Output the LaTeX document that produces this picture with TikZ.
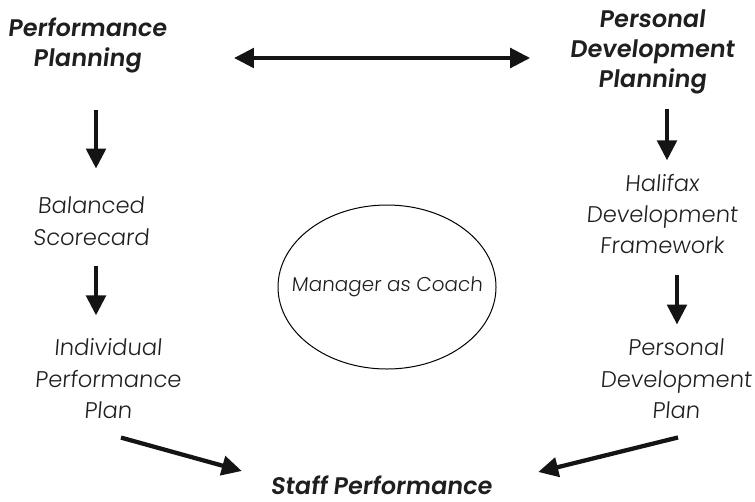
\documentclass[tikz,border=0pt]{standalone}
\usepackage{fontspec}
\usetikzlibrary{arrows.meta}
\newfontfamily\bodyfont{Poppins Light}[FakeSlant=0.08]
\newfontfamily\headfont{Poppins SemiBold}[FakeSlant=0.12]

\tikzset{every picture/.style={line width=0.75pt}}
\tikzset{
	headtxt/.style={align=center, inner sep=0.75pt, text=black!88, font=\headfont\fontsize{18}{22.5}\selectfont},
	bodytxt/.style={align=center, inner sep=0.75pt, text=black!88, font=\bodyfont\fontsize{17}{23.6}\selectfont},
	bigarrow/.style={line width=3.2pt, black!92, -{Triangle[length=15pt,width=14.5pt]}},
	twoarrow/.style={bigarrow, {Triangle[length=15pt,width=14.5pt]}-{Triangle[length=15pt,width=14.5pt]}},
}

\begin{document}
\begin{tikzpicture}[x=0.75pt,y=0.75pt,yscale=-1,xscale=1]
		\useasboundingbox (0,0) rectangle (755,501);
		
		%Headings
		\node [headtxt] (perfplan) at (87,45) {Performance\\Planning};
		\node [headtxt] (persplan) at (652,52) {Personal\\Development\\Planning};
		\node [headtxt] (staffperf) at (381,485) {Staff Performance};
		
		%Left column
		\node [bodytxt] (balsc) at (91,221) {Balanced\\Scorecard};
		\node [bodytxt] (indplan) at (108,379) {Individual\\Performance\\Plan};
		
		%Right column
		\node [bodytxt] (halifax) at (662,214) {Halifax\\Development\\Framework};
		\node [bodytxt] (persdev) at (676,379) {Personal\\Development\\Plan};
		
		%Shape: Ellipse
		\node [bodytxt, font=\bodyfont\fontsize{15}{18}\selectfont] (coach) at (387,287) {Manager as Coach};
		\draw (coach.center) ellipse [x radius=109, y radius=82];
		
		%Double arrow between the two plannings
		\coordinate (dleft) at ([xshift=49.5pt,yshift=9.75pt]perfplan.east);
		\coordinate (dright) at (dleft -| persplan.west);
		\draw [twoarrow, shorten >=28.5pt] (dleft) -- (dright) ;
		
		%Down arrows
		\draw [bigarrow, shorten <=27pt, shorten >=20pt] ([xshift=6.75pt]perfplan.south) -- ([xshift=6.75pt]perfplan.south |- balsc.north) ;
		\draw [bigarrow, shorten <=14.25pt, shorten >=16.5pt] ([xshift=3.75pt]balsc.south) -- ([xshift=3.75pt]balsc.south |- indplan.north) ;
		\draw [bigarrow, shorten <=9.75pt, shorten >=9pt] ([xshift=11.25pt]persplan.south) -- ([xshift=11.25pt]persplan.south |- halifax.north) ;
		\draw [bigarrow, shorten <=14.25pt, shorten >=9.75pt] ([xshift=11.25pt]halifax.south) -- ([xshift=11.25pt]halifax.south |- persdev.north) ;
		
		%Arrows into staff performance
		\draw [bigarrow] ([xshift=9.75pt,yshift=12.75pt]indplan.south) -- ([xshift=-20.25pt,yshift=-10.5pt]staffperf.west) ;
		\draw [bigarrow] ([xshift=1.5pt,yshift=12.75pt]persdev.south) -- ([xshift=33.75pt,yshift=-9.75pt]staffperf.east) ;
		
\end{tikzpicture}
\end{document}
